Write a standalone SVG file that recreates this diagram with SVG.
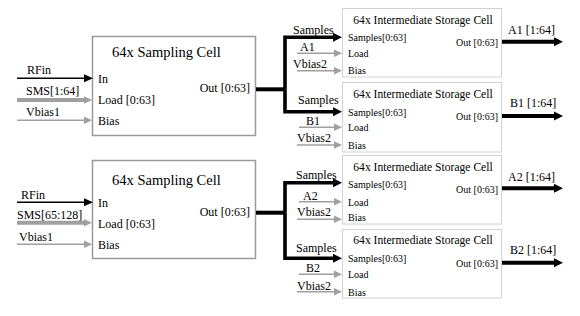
<svg xmlns="http://www.w3.org/2000/svg" width="580" height="316" viewBox="0 0 580 316">
<style>
text{font-family:"Liberation Serif","Times New Roman",serif;fill:#000}
.t1{font-size:14.5px}
.t2{font-size:11.6px}
.lbl{font-size:12px}
.pt{font-size:12px}
.sp{font-size:10px}
.cell{fill:#fff;stroke:#9a9a9a;stroke-width:1.5}
.st{fill:#fff;stroke:#d2d2d2;stroke-width:1}
.bk{stroke:#000;fill:none}
.gy{stroke:#a0a0a0;fill:none}
</style>
<defs>
<marker id="ab" markerUnits="userSpaceOnUse" viewBox="0 -5 10 10" refX="0" refY="0" markerWidth="10" markerHeight="10" orient="auto"><path d="M0,-4.5L9,0L0,4.5z" fill="#000"/></marker>
<marker id="as" markerUnits="userSpaceOnUse" viewBox="0 -5 10 10" refX="0" refY="0" markerWidth="10" markerHeight="10" orient="auto"><path d="M0,-4L9,0L0,4z" fill="#000"/></marker>
<marker id="ag" markerUnits="userSpaceOnUse" viewBox="0 -5 10 10" refX="0" refY="0" markerWidth="10" markerHeight="10" orient="auto"><path d="M0,-3.8L8,0L0,3.8z" fill="#a0a0a0"/></marker>
</defs>

<g id="sampling1">
<rect class="cell" x="92.5" y="36.5" width="163" height="99"/>
<text class="t1" x="112" y="57">64x Sampling Cell</text>
<text class="pt" x="98" y="82.5">In</text>
<text class="pt" x="98" y="103.5">Load [0:63]</text>
<text class="pt" x="98" y="125">Bias</text>
<text class="pt" x="250" y="92" text-anchor="end">Out [0:63]</text>
</g>
<g id="sampling2">
<rect class="cell" x="92.5" y="160.5" width="163" height="98"/>
<text class="t1" x="112" y="185">64x Sampling Cell</text>
<text class="pt" x="98" y="206.5">In</text>
<text class="pt" x="98" y="227.5">Load [0:63]</text>
<text class="pt" x="98" y="249">Bias</text>
<text class="pt" x="250" y="216" text-anchor="end">Out [0:63]</text>
</g>

<g id="storageA1">
<rect class="st" x="342.5" y="8.5" width="159" height="68.5"/>
<text class="t2" x="423" y="24" text-anchor="middle">64x Intermediate Storage Cell</text>
<text class="sp" x="348" y="41">Samples[0:63]</text>
<text class="sp" x="348" y="57">Load</text>
<text class="sp" x="348" y="74">Bias</text>
<text class="sp" x="498" y="45.5" text-anchor="end">Out [0:63]</text>
</g>
<g id="storageB1">
<rect class="st" x="342.5" y="82.5" width="159" height="69.5"/>
<text class="t2" x="423" y="98" text-anchor="middle">64x Intermediate Storage Cell</text>
<text class="sp" x="348" y="115.5">Samples[0:63]</text>
<text class="sp" x="348" y="131">Load</text>
<text class="sp" x="348" y="149">Bias</text>
<text class="sp" x="498" y="120" text-anchor="end">Out [0:63]</text>
</g>
<g id="storageA2">
<rect class="st" x="342.5" y="155.5" width="159" height="68.5"/>
<text class="t2" x="423" y="171" text-anchor="middle">64x Intermediate Storage Cell</text>
<text class="sp" x="348" y="188">Samples[0:63]</text>
<text class="sp" x="348" y="205.5">Load</text>
<text class="sp" x="348" y="221">Bias</text>
<text class="sp" x="498" y="193" text-anchor="end">Out [0:63]</text>
</g>
<g id="storageB2">
<rect class="st" x="342.5" y="229.5" width="159" height="68.5"/>
<text class="t2" x="423" y="244" text-anchor="middle">64x Intermediate Storage Cell</text>
<text class="sp" x="348" y="261.5">Samples[0:63]</text>
<text class="sp" x="348" y="278">Load</text>
<text class="sp" x="348" y="295.5">Bias</text>
<text class="sp" x="498" y="267" text-anchor="end">Out [0:63]</text>
</g>

<g id="connectors">
<!-- inputs sampling cell 1 -->
<line class="bk" x1="17" y1="78.3" x2="84" y2="78.3" stroke-width="1.6" marker-end="url(#as)"/>
<line class="gy" x1="17" y1="100" x2="84" y2="100" stroke-width="4" marker-end="url(#ag)"/>
<line class="gy" x1="17" y1="120.3" x2="84" y2="120.3" stroke-width="1.6" marker-end="url(#ag)"/>
<!-- inputs sampling cell 2 -->
<line class="bk" x1="17" y1="202.3" x2="84" y2="202.3" stroke-width="1.6" marker-end="url(#as)"/>
<line class="gy" x1="17" y1="222.7" x2="84" y2="222.7" stroke-width="4" marker-end="url(#ag)"/>
<line class="gy" x1="17" y1="244.3" x2="84" y2="244.3" stroke-width="1.6" marker-end="url(#ag)"/>
<!-- fork 1 -->
<line class="bk" x1="256" y1="89.3" x2="285" y2="89.3" stroke-width="4"/>
<path class="bk" d="M285,89.3V37.3H333" stroke-width="3.6" marker-end="url(#ab)"/>
<path class="bk" d="M285,89.3V111.7H333" stroke-width="3.6" marker-end="url(#ab)"/>
<!-- fork 2 -->
<line class="bk" x1="256" y1="212.7" x2="285" y2="212.7" stroke-width="4"/>
<path class="bk" d="M285,212.7V182.7H333" stroke-width="3.6" marker-end="url(#ab)"/>
<path class="bk" d="M285,212.7V258.3H333" stroke-width="3.6" marker-end="url(#ab)"/>
<!-- storage inputs -->
<line class="gy" x1="297" y1="53.3" x2="334" y2="53.3" stroke-width="1.6" marker-end="url(#ag)"/>
<line class="gy" x1="297" y1="70.7" x2="334" y2="70.7" stroke-width="1.6" marker-end="url(#ag)"/>
<line class="gy" x1="299" y1="127.3" x2="334" y2="127.3" stroke-width="1.6" marker-end="url(#ag)"/>
<line class="gy" x1="297" y1="145" x2="334" y2="145" stroke-width="1.6" marker-end="url(#ag)"/>
<line class="gy" x1="299" y1="201.7" x2="334" y2="201.7" stroke-width="1.6" marker-end="url(#ag)"/>
<line class="gy" x1="297" y1="219.3" x2="334" y2="219.3" stroke-width="1.6" marker-end="url(#ag)"/>
<line class="gy" x1="299" y1="274.3" x2="334" y2="274.3" stroke-width="1.6" marker-end="url(#ag)"/>
<line class="gy" x1="297" y1="291.7" x2="334" y2="291.7" stroke-width="1.6" marker-end="url(#ag)"/>
<!-- outputs -->
<line class="bk" x1="502" y1="41.7" x2="554" y2="41.7" stroke-width="4" marker-end="url(#ab)"/>
<line class="bk" x1="502" y1="116" x2="554" y2="116" stroke-width="4" marker-end="url(#ab)"/>
<line class="bk" x1="502" y1="188.3" x2="554" y2="188.3" stroke-width="4" marker-end="url(#ab)"/>
<line class="bk" x1="502" y1="262.7" x2="554" y2="262.7" stroke-width="4" marker-end="url(#ab)"/>
</g>

<g id="labels">
<text class="lbl" x="27" y="73.5">RFin</text>
<text class="lbl" x="26" y="94.5">SMS[1:64]</text>
<text class="lbl" x="26" y="116">Vbias1</text>
<text class="lbl" x="21" y="198.5">RFin</text>
<text class="lbl" x="17" y="219">SMS[65:128]</text>
<text class="lbl" x="19" y="240.5">Vbias1</text>
<text class="lbl" x="293" y="33.5">Samples</text>
<text class="lbl" x="300" y="50.5">A1</text>
<text class="lbl" x="293" y="68">Vbias2</text>
<text class="lbl" x="298" y="104">Samples</text>
<text class="lbl" x="306" y="124.5">B1</text>
<text class="lbl" x="297" y="142">Vbias2</text>
<text class="lbl" x="296" y="179">Samples</text>
<text class="lbl" x="303" y="199.5">A2</text>
<text class="lbl" x="297" y="215.5">Vbias2</text>
<text class="lbl" x="296" y="251.5">Samples</text>
<text class="lbl" x="306" y="272">B2</text>
<text class="lbl" x="297" y="289.5">Vbias2</text>
<text class="lbl" x="508" y="34">A1 [1:64]</text>
<text class="lbl" x="510" y="107">B1 [1:64]</text>
<text class="lbl" x="508" y="181">A2 [1:64]</text>
<text class="lbl" x="510" y="254">B2 [1:64]</text>
</g>
</svg>
